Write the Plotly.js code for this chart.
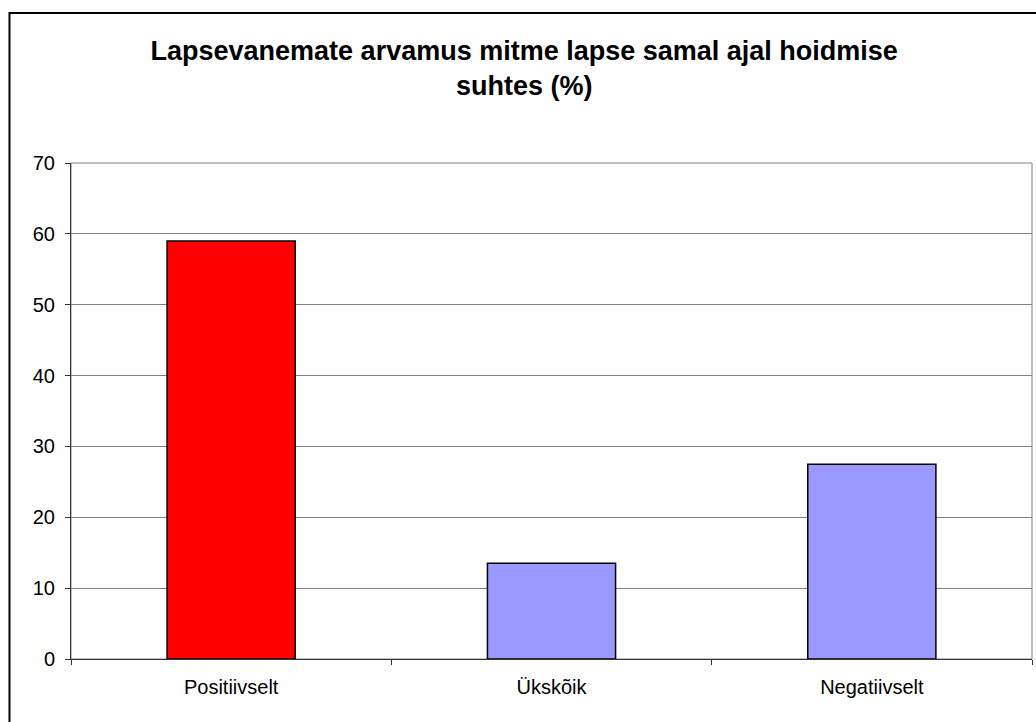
<!DOCTYPE html>
<html>
<head>
<meta charset="utf-8">
<script src="https://cdn.plot.ly/plotly-3.0.1.min.js"></script>
<style>
  html, body { margin: 0; padding: 0; background: #fff; }
  #chart { width: 1036px; height: 722px; }
</style>
</head>
<body>
<div id="chart"></div>
<script>
const categories = ['Positiivselt', 'Ükskõik', 'Negatiivselt'];
const values = [59, 13.5, 27.5];
const barColors = ['#ff0000', '#9999ff', '#9999ff'];
const yTicks = [0, 10, 20, 30, 40, 50, 60, 70];
const chartTitle = '<b>Lapsevanemate arvamus mitme lapse samal ajal hoidmise<br>suhtes (%)</b>';

const trace = {
    x: categories,
    y: values,
    type: 'bar',
    marker: {
        color: barColors,
        line: { color: '#000000', width: 1.5 }
    },
    hoverinfo: 'x+y'
};

const layout = {
    width: 1036,
    height: 722,
    title: {
        text: chartTitle,
        font: { family: 'Liberation Sans, Arial, sans-serif', size: 27, color: '#000' },
        x: 0.506,
        xanchor: 'center',
        y: 0.917,
        yanchor: 'middle'
    },
    font: { family: 'Liberation Sans, Arial, sans-serif', size: 20, color: '#000' },
    showlegend: false,
    bargap: 0.6,
    margin: { l: 70.5, r: 3.5, t: 163, b: 63.3 },
    plot_bgcolor: '#ffffff',
    paper_bgcolor: '#ffffff',
    xaxis: {
        type: 'category',
        showgrid: false,
        showline: true,
        linecolor: '#333333',
        linewidth: 1,
        ticks: 'outside',
        tickson: 'boundaries',
        ticklen: 5,
        tickcolor: '#333333',
        tickfont: { size: 20 },
        ticklabelstandoff: 10,
        fixedrange: true
    },
    yaxis: {
        range: [0, 70],
        tickvals: yTicks,
        showgrid: true,
        gridcolor: '#808080',
        gridwidth: 1,
        zeroline: false,
        showline: true,
        linecolor: '#333333',
        linewidth: 1,
        ticks: 'outside',
        ticklen: 5,
        tickcolor: '#333333',
        tickfont: { size: 20 },
        ticklabelstandoff: 6,
        fixedrange: true
    },
    shapes: [
        // plot area frame (top and right in grey)
        {
            type: 'rect', xref: 'paper', yref: 'paper',
            x0: 0, x1: 1, y0: 0, y1: 1,
            line: { color: '#808080', width: 1 },
            layer: 'below'
        },
        // outer chart border
        {
            type: 'rect', xref: 'paper', yref: 'paper',
            x0: -0.064, x1: 1.02, y0: -0.2, y1: 1.3026,
            line: { color: '#000000', width: 2 }
        }
    ]
};

Plotly.newPlot('chart', [trace], layout, { displayModeBar: false, staticPlot: true });
</script>
</body>
</html>
